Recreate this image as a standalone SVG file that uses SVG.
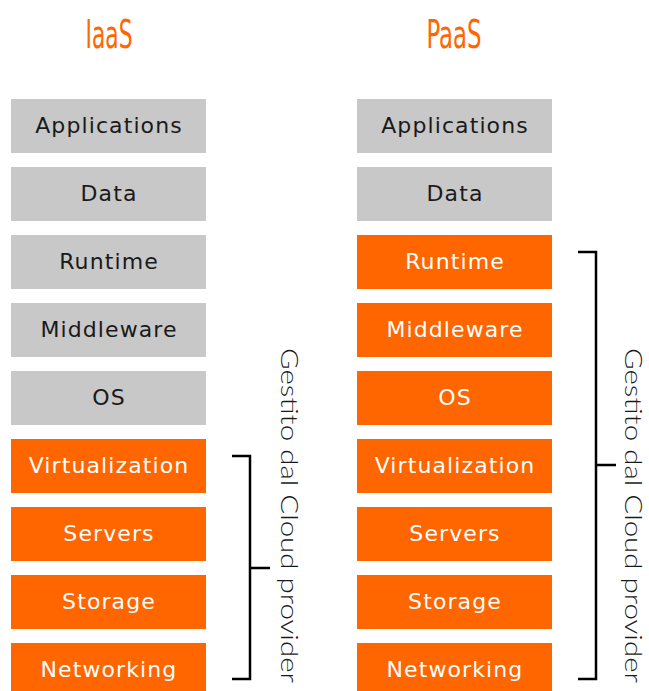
<svg xmlns="http://www.w3.org/2000/svg" width="649" height="691" viewBox="0 0 649 691">
<style>
.g{fill:#C8C8C8}
.o{fill:#FF6600}
.t{font-family:"DejaVu Sans","Liberation Sans",sans-serif;font-size:22px;text-anchor:middle;letter-spacing:1.1px}
.tk{fill:#1a1a1a}
.tw{fill:#ffffff}
.title{font-family:"Liberation Sans Narrow","DejaVu Sans Condensed","Liberation Sans",sans-serif;font-size:39px;fill:#FF6600;text-anchor:middle;font-stretch:condensed}
.side{font-family:"Lato","DejaVu Sans",sans-serif;font-weight:300;font-size:24px;fill:#1a1a1a}
.br{fill:none;stroke:#000;stroke-width:2.5}
</style>
<rect width="649" height="691" fill="#ffffff"/>
<text class="title" x="109" y="48" textLength="47" lengthAdjust="spacingAndGlyphs">IaaS</text>
<text class="title" x="454" y="48" textLength="55" lengthAdjust="spacingAndGlyphs">PaaS</text>

<g id="iaas-applications"><rect class="g" x="11" y="99" width="195" height="54"/><text class="t tk" x="109" y="133">Applications</text></g>
<g id="iaas-data"><rect class="g" x="11" y="167" width="195" height="54"/><text class="t tk" x="109" y="201">Data</text></g>
<g id="iaas-runtime"><rect class="g" x="11" y="235" width="195" height="54"/><text class="t tk" x="109" y="269">Runtime</text></g>
<g id="iaas-middleware"><rect class="g" x="11" y="303" width="195" height="54"/><text class="t tk" x="109" y="337">Middleware</text></g>
<g id="iaas-os"><rect class="g" x="11" y="371" width="195" height="54"/><text class="t tk" x="109" y="405">OS</text></g>
<g id="iaas-virtualization"><rect class="o" x="11" y="439" width="195" height="54"/><text class="t tw" x="109" y="473">Virtualization</text></g>
<g id="iaas-servers"><rect class="o" x="11" y="507" width="195" height="54"/><text class="t tw" x="109" y="541">Servers</text></g>
<g id="iaas-storage"><rect class="o" x="11" y="575" width="195" height="54"/><text class="t tw" x="109" y="609">Storage</text></g>
<g id="iaas-networking"><rect class="o" x="11" y="643" width="195" height="54"/><text class="t tw" x="109" y="677">Networking</text></g>

<g id="paas-applications"><rect class="g" x="357" y="99" width="195" height="54"/><text class="t tk" x="455" y="133">Applications</text></g>
<g id="paas-data"><rect class="g" x="357" y="167" width="195" height="54"/><text class="t tk" x="455" y="201">Data</text></g>
<g id="paas-runtime"><rect class="o" x="357" y="235" width="195" height="54"/><text class="t tw" x="455" y="269">Runtime</text></g>
<g id="paas-middleware"><rect class="o" x="357" y="303" width="195" height="54"/><text class="t tw" x="455" y="337">Middleware</text></g>
<g id="paas-os"><rect class="o" x="357" y="371" width="195" height="54"/><text class="t tw" x="455" y="405">OS</text></g>
<g id="paas-virtualization"><rect class="o" x="357" y="439" width="195" height="54"/><text class="t tw" x="455" y="473">Virtualization</text></g>
<g id="paas-servers"><rect class="o" x="357" y="507" width="195" height="54"/><text class="t tw" x="455" y="541">Servers</text></g>
<g id="paas-storage"><rect class="o" x="357" y="575" width="195" height="54"/><text class="t tw" x="455" y="609">Storage</text></g>
<g id="paas-networking"><rect class="o" x="357" y="643" width="195" height="54"/><text class="t tw" x="455" y="677">Networking</text></g>

<g id="connectors">
<path class="br" d="M232,456 H250 V679 H232 M250,568 H270"/>
<path class="br" d="M578,252 H596 V679 H578 M596,465 H616"/>
</g>

<g id="label-iaas"><text class="side" transform="translate(281,348) rotate(90)" textLength="335" lengthAdjust="spacingAndGlyphs">Gestito dal Cloud provider</text></g>
<g id="label-paas"><text class="side" transform="translate(625,348) rotate(90)" textLength="335" lengthAdjust="spacingAndGlyphs">Gestito dal Cloud provider</text></g>
</svg>
